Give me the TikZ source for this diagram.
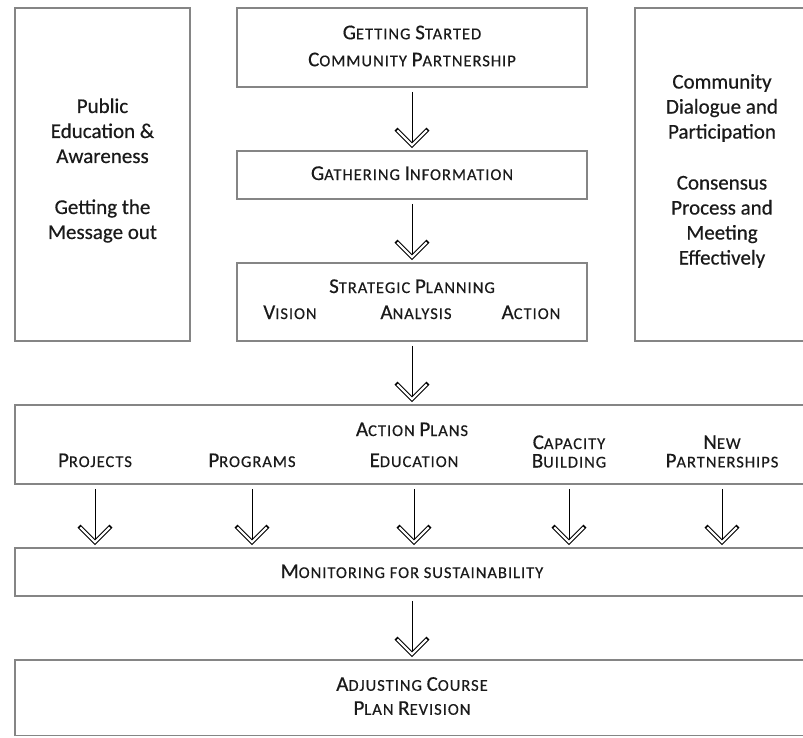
\documentclass[tikz,border=0pt]{standalone}
\usepackage{fontspec}
\setmainfont{Carlito}[UprightFeatures={FakeBold=0.4}]
\newfontfamily\scpfont{Carlito}[LetterSpace=6,FakeBold=0.4]
\usetikzlibrary{decorations.markings}
\definecolor{boxgray}{HTML}{858585}
\definecolor{txt}{HTML}{1A1A1A}
\newcommand\scp[1]{{\scpfont\fontsize{16.5pt}{19pt}\selectfont #1}}
\begin{document}
\begin{tikzpicture}[x=1pt,y=-1pt,
  framebox/.style={draw=boxgray, line width=1.8pt, inner sep=0pt, fill=none},
  bodytext/.style={align=center, inner sep=0pt, text=txt, font=\fontsize{21pt}{25pt}\selectfont},
  sctext/.style={align=center, inner sep=0pt, text=txt, font=\fontsize{21pt}{27pt}\selectfont},
  chevron/.style={decoration={markings, mark=at position 1 with {
      \draw[black, line width=4.2pt, line join=miter, line cap=butt] (-16pt,16pt) -- (0pt,0pt) -- (-16pt,-16pt);
      \draw[white, line width=2.1pt, line join=miter, line cap=butt] (-14.8pt,14.8pt) -- (0pt,0pt) -- (-14.8pt,-14.8pt);
    }}, postaction={decorate}},
  conn/.style={draw=black, line width=0.9pt, chevron}
]
\useasboundingbox (0,0) rectangle (803,737);
\fill[white] (0,0) rectangle (803,737);
\clip (0,0) rectangle (803,737);

% boxes
\node[framebox, minimum width=175pt, minimum height=333pt] (pub) at (102.5,174.5) {};
\node[framebox, minimum width=174pt, minimum height=333pt] (comm) at (722,174.5) {};
\node[framebox, minimum width=350pt, minimum height=79pt] (start) at (412,47.5) {};
\node[framebox, minimum width=350pt, minimum height=48pt] (gath) at (412,175) {};
\node[framebox, minimum width=350pt, minimum height=78pt] (strat) at (412,302) {};
\node[framebox, minimum width=794pt, minimum height=79pt] (plans) at (412,444.5) {};
\node[framebox, minimum width=794pt, minimum height=48pt] (mon) at (412,572) {};
\node[framebox, minimum width=794pt, minimum height=75.5pt] (adj) at (412,697.75) {};

% texts
\node[bodytext] (pubtxt) at (102.5,170.5) {Public\\Education \&\\Awareness\\[26pt]Getting the\\Message out};
\node[bodytext] (commtxt) at (722,171) {Community\\Dialogue and\\Participation\\[26pt]Consensus\\Process and\\Meeting\\Effectively};
\node[sctext] (starttxt) at (412,46) {G\scp{ETTING} S\scp{TARTED}\\C\scp{OMMUNITY} P\scp{ARTNERSHIP}};
\node[sctext, anchor=base] (gathtxt) at (412,180) {G\scp{ATHERING} I\scp{NFORMATION}};
\node[sctext, anchor=base] (strattxt) at (412,293) {S\scp{TRATEGIC} P\scp{LANNING}};
\node[sctext, anchor=base] (vision) at (290,319) {V\scp{ISION}};
\node[sctext, anchor=base] (analysis) at (416,319) {A\scp{NALYSIS}};
\node[sctext, anchor=base] (action) at (531,319) {A\scp{CTION}};
\node[sctext, anchor=base] (plantxt) at (412,436) {A\scp{CTION} P\scp{LANS}};
\node[sctext, anchor=base] (projects) at (95,467) {P\scp{ROJECTS}};
\node[sctext, anchor=base] (programs) at (252,467) {P\scp{ROGRAMS}};
\node[sctext, anchor=base] (education) at (414,467) {E\scp{DUCATION}};
\node[sctext, font=\fontsize{21pt}{18.5pt}\selectfont] (capacity) at (569,451.5) {C\scp{APACITY}\\B\scp{UILDING}};
\node[sctext, font=\fontsize{21pt}{18.5pt}\selectfont] (newp) at (722,451.5) {N\scp{EW}\\P\scp{ARTNERSHIPS}};
\node[sctext, anchor=base] (montxt) at (412,578) {M\scp{ONITORING FOR SUSTAINABILITY}};
\node[sctext, font=\fontsize{21pt}{24pt}\selectfont] (adjtxt) at (412,696) {A\scp{DJUSTING} C\scp{OURSE}\\P\scp{LAN} R\scp{EVISION}};

% connectors
\draw[conn] ([yshift=-4pt]start.south) -- ([yshift=5pt]gath.north);
\draw[conn] ([yshift=-4pt]gath.south) -- ([yshift=5pt]strat.north);
\draw[conn] ([yshift=-4pt]strat.south) -- ([yshift=5pt]plans.north);
\foreach \lbl in {projects,programs,education,capacity,newp}{
  \draw[conn] ([yshift=-4pt]\lbl |- plans.south) -- ([yshift=5pt]\lbl |- mon.north);
}
\draw[conn] ([yshift=-4pt]mon.south) -- ([yshift=5pt]adj.north);
\end{tikzpicture}
\end{document}
